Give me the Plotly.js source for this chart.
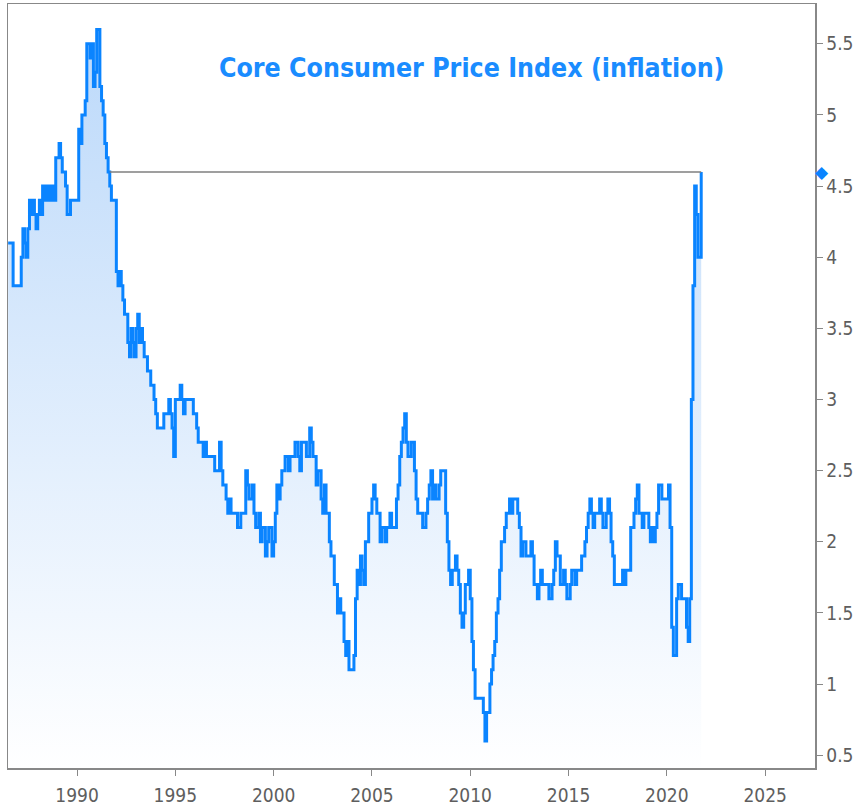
<!DOCTYPE html>
<html>
<head>
<meta charset="utf-8">
<script src="https://cdn.plot.ly/plotly-3.0.1.min.js"></script>
<style>
  html, body { margin: 0; padding: 0; background: #ffffff; }
  #chart { width: 864px; height: 812px; }
</style>
</head>
<body>
<div id="chart"></div>
<script>
// Core CPI, year-over-year % change, monthly, first value = July 1986
const firstYear = 1986;
const firstMonth = 7; // July
const coreCpiYoY = [
  /*1986 Jul-Dec*/ 4.1, 4.1, 4.1, 3.8, 3.8, 3.8,
  /*1987*/ 3.8, 3.8, 4.0, 4.2, 4.1, 4.0, 4.2, 4.4, 4.3, 4.4, 4.3, 4.2,
  /*1988*/ 4.3, 4.4, 4.3, 4.5, 4.4, 4.5, 4.4, 4.5, 4.4, 4.5, 4.4, 4.7,
  /*1989*/ 4.7, 4.8, 4.7, 4.6, 4.6, 4.5, 4.3, 4.3, 4.4, 4.4, 4.4, 4.4,
  /*1990*/ 4.4, 4.9, 4.8, 5.0, 5.0, 5.1, 5.5, 5.5, 5.4, 5.5, 5.2, 5.3,
  /*1991*/ 5.6, 5.6, 5.2, 5.1, 5.0, 4.8, 4.7, 4.6, 4.5, 4.4, 4.4, 4.4,
  /*1992*/ 3.9, 3.8, 3.9, 3.8, 3.7, 3.6, 3.6, 3.4, 3.3, 3.5, 3.4, 3.3,
  /*1993*/ 3.5, 3.6, 3.4, 3.5, 3.4, 3.3, 3.3, 3.2, 3.2, 3.1, 3.1, 3.0,
  /*1994*/ 2.9, 2.8, 2.8, 2.8, 2.8, 2.9, 2.9, 2.9, 3.0, 2.9, 2.8, 2.6,
  /*1995*/ 3.0, 3.0, 3.0, 3.1, 3.0, 2.9, 3.0, 3.0, 3.0, 3.0, 3.0, 2.9,
  /*1996*/ 2.9, 2.8, 2.7, 2.7, 2.7, 2.6, 2.7, 2.6, 2.6, 2.6, 2.6, 2.6,
  /*1997*/ 2.5, 2.5, 2.5, 2.7, 2.5, 2.4, 2.4, 2.3, 2.2, 2.3, 2.2, 2.2,
  /*1998*/ 2.2, 2.2, 2.1, 2.1, 2.2, 2.2, 2.2, 2.5, 2.4, 2.3, 2.3, 2.4,
  /*1999*/ 2.2, 2.1, 2.1, 2.2, 2.0, 2.1, 2.1, 1.9, 2.0, 2.1, 2.1, 1.9,
  /*2000*/ 2.0, 2.2, 2.4, 2.3, 2.4, 2.5, 2.5, 2.6, 2.6, 2.5, 2.6, 2.6,
  /*2001*/ 2.6, 2.7, 2.7, 2.6, 2.5, 2.7, 2.7, 2.7, 2.6, 2.6, 2.8, 2.7,
  /*2002*/ 2.6, 2.6, 2.4, 2.5, 2.5, 2.3, 2.2, 2.4, 2.2, 2.2, 2.0, 1.9,
  /*2003*/ 1.9, 1.7, 1.7, 1.5, 1.6, 1.5, 1.5, 1.3, 1.2, 1.3, 1.1, 1.1,
  /*2004*/ 1.1, 1.2, 1.6, 1.8, 1.7, 1.9, 1.8, 1.7, 2.0, 2.0, 2.2, 2.2,
  /*2005*/ 2.3, 2.4, 2.3, 2.2, 2.2, 2.0, 2.1, 2.1, 2.0, 2.1, 2.1, 2.2,
  /*2006*/ 2.1, 2.1, 2.1, 2.3, 2.4, 2.6, 2.7, 2.8, 2.9, 2.7, 2.6, 2.6,
  /*2007*/ 2.7, 2.7, 2.5, 2.3, 2.2, 2.2, 2.2, 2.1, 2.1, 2.2, 2.3, 2.4,
  /*2008*/ 2.5, 2.3, 2.4, 2.3, 2.3, 2.4, 2.5, 2.5, 2.5, 2.2, 2.0, 1.8,
  /*2009*/ 1.7, 1.8, 1.8, 1.9, 1.8, 1.7, 1.5, 1.4, 1.5, 1.7, 1.7, 1.8,
  /*2010*/ 1.6, 1.3, 1.1, 0.9, 0.9, 0.9, 0.9, 0.9, 0.8, 0.6, 0.8, 0.8,
  /*2011*/ 1.0, 1.1, 1.2, 1.3, 1.5, 1.6, 1.8, 2.0, 2.0, 2.1, 2.2, 2.2,
  /*2012*/ 2.3, 2.2, 2.3, 2.3, 2.3, 2.2, 2.1, 1.9, 2.0, 2.0, 1.9, 1.9,
  /*2013*/ 1.9, 2.0, 1.9, 1.7, 1.7, 1.6, 1.7, 1.8, 1.7, 1.7, 1.7, 1.7,
  /*2014*/ 1.6, 1.6, 1.7, 1.8, 2.0, 1.9, 1.9, 1.7, 1.7, 1.8, 1.7, 1.6,
  /*2015*/ 1.6, 1.7, 1.8, 1.8, 1.7, 1.8, 1.8, 1.8, 1.9, 1.9, 2.0, 2.1,
  /*2016*/ 2.2, 2.3, 2.2, 2.1, 2.2, 2.2, 2.2, 2.3, 2.2, 2.1, 2.1, 2.2,
  /*2017*/ 2.3, 2.2, 2.0, 1.9, 1.7, 1.7, 1.7, 1.7, 1.7, 1.8, 1.7, 1.8,
  /*2018*/ 1.8, 1.8, 2.1, 2.1, 2.2, 2.3, 2.4, 2.2, 2.2, 2.1, 2.2, 2.2,
  /*2019*/ 2.2, 2.1, 2.0, 2.1, 2.0, 2.1, 2.2, 2.4, 2.4, 2.3, 2.3, 2.3,
  /*2020*/ 2.3, 2.4, 2.1, 1.4, 1.2, 1.2, 1.6, 1.7, 1.7, 1.6, 1.6, 1.6,
  /*2021 Jan-Oct*/ 1.4, 1.3, 1.6, 3.0, 3.8, 4.5, 4.3, 4.0, 4.0, 4.6
];
const titleText = 'Core Consumer Price Index (inflation)';
const xTickYears = [1990, 1995, 2000, 2005, 2010, 2015, 2020, 2025];

// month dates (first of month)
const dates = coreCpiYoY.map((v, i) => {
  const m0 = firstMonth - 1 + i;
  const y = firstYear + Math.floor(m0 / 12);
  const m = (m0 % 12) + 1;
  return y + '-' + String(m).padStart(2, '0') + '-01';
});

const n = coreCpiYoY.length;
const lastVal = coreCpiYoY[n - 1];
const lastDate = dates[n - 1];
// reference line: from when the series last fell below the latest level
let j = n - 2;
while (j >= 0 && coreCpiYoY[j] < lastVal) j--;
const refStart = dates[Math.min(j + 1, n - 1)];

const blue = '#0a84ff';
const tickFont = { family: '"DejaVu Sans Condensed", "DejaVu Sans", sans-serif', size: 19, color: '#5e5e5e' };

const trace = {
  type: 'scatter',
  mode: 'lines',
  x: dates,
  y: coreCpiYoY,
  line: { color: blue, width: 3, shape: 'hv' },
  fill: 'tozeroy',
  fillgradient: {
    type: 'vertical',
    start: 0.4,
    stop: 5.6,
    colorscale: [[0, 'rgba(255,255,255,1)'], [1, 'rgba(188,217,250,1)']]
  },
  hoverinfo: 'x+y',
  showlegend: false
};

const layout = {
  width: 864,
  height: 812,
  margin: { l: 8, r: 49, t: 4, b: 44 },
  paper_bgcolor: '#ffffff',
  plot_bgcolor: '#ffffff',
  showlegend: false,
  title: {
    text: '<b>' + titleText + '</b>',
    x: 0.546, xref: 'container', xanchor: 'center',
    y: 0.916, yref: 'container', yanchor: 'middle',
    font: { family: '"DejaVu Sans Condensed", "DejaVu Sans", sans-serif', size: 26.5, color: '#1a8cff' }
  },
  xaxis: {
    type: 'date',
    range: ['1986-06-28', '2027-07-16'],
    tickvals: xTickYears.map(y => y + '-01-01'),
    ticktext: xTickYears.map(String),
    ticks: 'outside', ticklen: 6, tickwidth: 1, tickcolor: '#888888',
    ticklabelstandoff: 4,
    showgrid: false, zeroline: false,
    showline: true, linecolor: '#888888', linewidth: 1.5, mirror: true,
    tickfont: tickFont
  },
  yaxis: {
    side: 'right',
    range: [0.41, 5.78],
    dtick: 0.5, tick0: 0.5,
    ticks: 'outside', ticklen: 6, tickwidth: 1, tickcolor: '#888888',
    showgrid: false, zeroline: false,
    showline: true, linecolor: '#888888', linewidth: 1.5, mirror: true,
    tickfont: tickFont
  },
  shapes: [{
    type: 'line', xref: 'x', yref: 'y',
    x0: refStart, x1: lastDate, y0: lastVal, y1: lastVal,
    line: { color: '#7f7f7f', width: 1.5 }
  }],
  annotations: [{
    xref: 'paper', yref: 'y', x: 1, y: lastVal,
    xanchor: 'center', yanchor: 'middle', xshift: 7,
    text: '◆', showarrow: false,
    font: { size: 17, color: blue }
  }]
};

Plotly.newPlot('chart', [trace], layout, { staticPlot: true, displayModeBar: false });
</script>
</body>
</html>
